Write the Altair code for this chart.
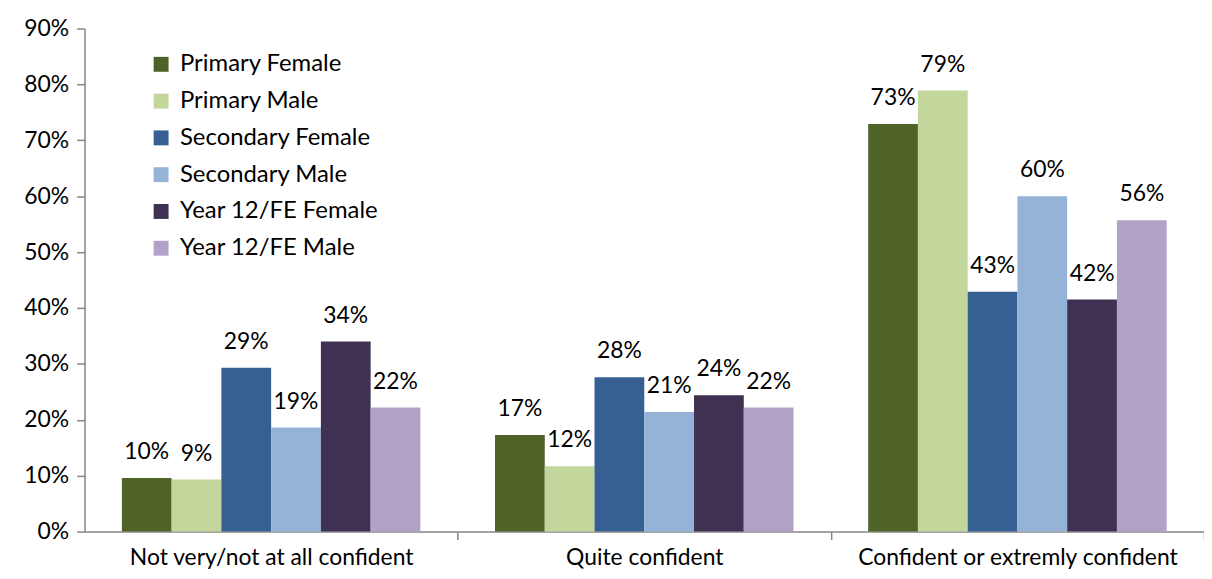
import altair as alt
import pandas as pd

categories = ["Not very/not at all confident", "Quite confident", "Confident or extremly confident"]
groups = ["Primary Female", "Primary Male", "Secondary Female", "Secondary Male",
          "Year 12/FE Female", "Year 12/FE Male"]
colors = ["#4F6228", "#C3D69B", "#366092", "#95B3D7", "#3F3151", "#B2A2C7"]

primary_female = [9.6, 17.3, 72.9]
primary_male = [9.3, 11.7, 78.9]
secondary_female = [29.3, 27.6, 42.9]
secondary_male = [18.6, 21.4, 60.0]
year12_female = [34.0, 24.4, 41.5]
year12_male = [22.2, 22.2, 55.7]

series = [primary_female, primary_male, secondary_female, secondary_male,
          year12_female, year12_male]

rows = []
for g, vals in zip(groups, series):
    for c, v in zip(categories, vals):
        rows.append({"category": c, "group": g, "value": v / 100.0,
                     "label": f"{int(v + 0.5)}%"})
df = pd.DataFrame(rows)

FONT = "Lato"
FS = 23
AX = "#868686"
W = 1126
P_IN = 0.2
P_OUT = 0.1
STEP = W / (len(categories) - P_IN + 2 * P_OUT)
OFF = STEP * P_IN / 2

base = alt.Chart(df).encode(
    x=alt.X("category:N", sort=categories, title=None,
            scale=alt.Scale(paddingInner=P_IN, paddingOuter=P_OUT),
            axis=alt.Axis(labelAngle=0, labelFontSize=FS, labelFont=FONT,
                          labelColor="#000000", labelPadding=7, labelLimit=500,
                          bandPosition=1, tickOffset=OFF, labelOffset=-OFF,
                          tickSize=8, tickColor=AX,
                          domainColor=AX, domainWidth=1.5, tickWidth=1.5)),
    xOffset=alt.XOffset("group:N", sort=groups,
                        scale=alt.Scale(paddingInner=0, paddingOuter=0)),
)

bars = base.mark_bar().encode(
    y=alt.Y("value:Q", title=None,
            scale=alt.Scale(domain=[0, 0.9], nice=False),
            axis=alt.Axis(format=".0%", values=[i / 10 for i in range(10)],
                          labelFontSize=FS, labelFont=FONT, labelColor="#000000",
                          tickSize=8, tickColor=AX, domainColor=AX,
                          domainWidth=1.5, tickWidth=1.5, grid=False,
                          labelPadding=8)),
    color=alt.Color("group:N", sort=groups,
                    scale=alt.Scale(domain=groups, range=colors),
                    legend=alt.Legend(title=None, orient="none", legendX=65,
                                      legendY=24, symbolType="square",
                                      symbolSize=225, symbolStrokeWidth=0,
                                      labelFontSize=24, labelFont=FONT,
                                      labelColor="#000000", rowPadding=13,
                                      labelOffset=7, labelLimit=400)),
)

labels = base.mark_text(baseline="alphabetic", dy=-19, fontSize=FS,
                        font=FONT, color="#000000").encode(
    y="value:Q",
    text="label:N",
)

chart = alt.layer(bars, labels).properties(
    width=W, height=506,
    padding={"left": 77, "top": 19, "right": 0, "bottom": 37},
    autosize=alt.AutoSizeParams(type="none"),
    view=alt.ViewBackground(stroke="transparent", strokeWidth=0),
).configure_view(stroke="transparent", strokeWidth=0).configure(background="white")

chart.save("out.html", embed_options={"renderer": "svg", "actions": False})
